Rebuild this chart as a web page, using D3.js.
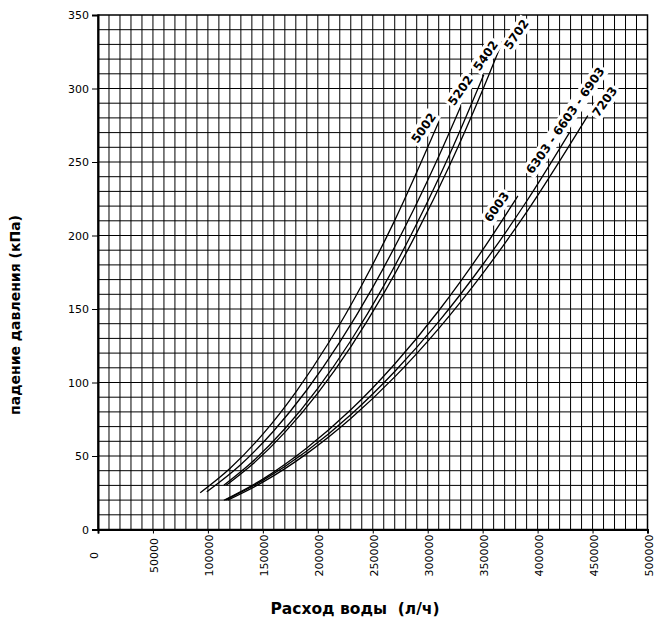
<!DOCTYPE html>
<html>
<head>
<meta charset="utf-8">
<script src="https://cdn.jsdelivr.net/npm/d3@7"></script>
<style>
body { margin: 0; background: #fff; }
</style>
</head>
<body>
<svg id="svg" width="670" height="625"></svg>
<script>
// flow (l/h) and pressure drop (kPa)
const q5002 = [93000, 120000, 150000, 180000, 210000, 240000, 270000, 310000];
const p5002 = [25.0, 41.5, 64.9, 93.5, 127.2, 166.2, 210.3, 277.2];
const q5202 = [99000, 130000, 160000, 190000, 220000, 250000, 280000, 310000, 330000];
const p5202 = [25.6, 44.2, 67.2, 94.9, 127.4, 164.7, 206.8, 253.8, 287.8];
const q5402 = [114500, 140000, 170000, 200000, 230000, 260000, 290000, 320000, 351000];
const p5402 = [30.1, 45.7, 68.5, 96.0, 128.4, 165.7, 208.0, 255.3, 309.4];
const q5702 = [116700, 140000, 170000, 200000, 230000, 260000, 290000, 320000, 350000, 368000];
const p5702 = [30.1, 44.0, 66.1, 92.8, 124.3, 160.6, 201.8, 247.8, 299.0, 332.0];
const q6003 = [114500, 150000, 190000, 230000, 270000, 310000, 350000, 382000];
const p6003 = [19.9, 34.3, 55.4, 81.4, 112.6, 148.8, 190.2, 226.9];
const q6303 = [116000, 150000, 190000, 230000, 270000, 310000, 350000, 390000, 429000];
const p6303 = [20.0, 33.4, 53.4, 78.1, 107.5, 141.4, 180.1, 223.3, 270.0];
const q7203 = [118000, 150000, 190000, 230000, 270000, 310000, 350000, 390000, 445700];
const p7203 = [20.0, 32.2, 51.6, 75.5, 103.8, 136.7, 174.1, 215.9, 281.5];

const seriesNames = ["5002", "5202", "5402", "5702", "6003", "6303 - 6603 - 6903", "7203"];
const seriesQ = [q5002, q5202, q5402, q5702, q6003, q6303, q7203];
const seriesP = [p5002, p5202, p5402, p5702, p6003, p6303, p7203];

const xTicks = [0, 50000, 100000, 150000, 200000, 250000, 300000, 350000, 400000, 450000, 500000];
const yTicks = [0, 50, 100, 150, 200, 250, 300, 350];

const xTitle = "Расход воды  (л/ч)";
const yTitle = "падение давления (кПа)";

// label placement relative to the end of each curve (px)
const labelOffsets = [[-15, 6], [0, -16], [2, -19], [14, -7], [-21, 11], [-4, -12], [17, -14]];

const plot = { left: 98, right: 647.5, top: 15, bottom: 529.5 };

let xScale = d3.scaleLinear()
    .domain([0, 500000])
    .range([plot.left, plot.right]);
let yScale = d3.scaleLinear()
    .domain([0, 350])
    .range([plot.bottom, plot.top]);

let mySvg = d3.select('#svg');

// GRID
mySvg.append("g")
    .selectAll("line")
    .data(d3.range(10000, 500000, 10000))
    .join("line")
    .attr("x1", d => xScale(d)).attr("x2", d => xScale(d))
    .attr("y1", plot.top).attr("y2", plot.bottom)
    .attr("stroke", "#000").attr("stroke-width", 1);

mySvg.append("g")
    .selectAll("line")
    .data(d3.range(10, 350, 10))
    .join("line")
    .attr("x1", plot.left).attr("x2", plot.right)
    .attr("y1", d => yScale(d)).attr("y2", d => yScale(d))
    .attr("stroke", "#000").attr("stroke-width", 1);

// frame
mySvg.append("rect")
    .attr("x", plot.left).attr("y", plot.top)
    .attr("width", plot.right - plot.left)
    .attr("height", plot.bottom - plot.top)
    .attr("fill", "none")
    .attr("stroke", "#000").attr("stroke-width", 1.5);

// AXES
let yAxis = d3.axisLeft(yScale).tickValues(yTicks).tickSize(6).tickPadding(3);
let gy = mySvg.append("g")
    .attr("transform", `translate(${plot.left},0)`)
    .call(yAxis);
gy.select(".domain").attr("stroke-width", 2);
gy.selectAll("text")
    .attr("font-family", "DejaVu Sans")
    .attr("font-size", 11)
    .attr("fill", "#000");

let xAxis = d3.axisBottom(xScale).tickValues(xTicks).tickSize(4).tickFormat(d3.format("d"));
let gx = mySvg.append("g")
    .attr("transform", `translate(0,${plot.bottom})`)
    .call(xAxis);
gx.select(".domain").attr("stroke-width", 2);
gx.selectAll("text")
    .attr("font-family", "DejaVu Sans")
    .attr("font-size", 11)
    .attr("fill", "#000")
    .attr("text-anchor", "middle")
    .attr("dy", null)
    .attr("dominant-baseline", "central")
    .attr("transform", d => `translate(${d === 0 ? -4 : 1},26) rotate(-90)`)
    .attr("y", 0);

// CURVES
const series = seriesNames.map((name, i) => ({
    name: name,
    points: seriesQ[i].map((q, j) => [q, seriesP[i][j]]),
    offset: labelOffsets[i]
}));

let line = d3.line()
    .x(d => xScale(d[0]))
    .y(d => yScale(d[1]))
    .curve(d3.curveMonotoneX);

mySvg.append("g")
    .selectAll("path")
    .data(series)
    .join("path")
    .attr("d", d => line(d.points))
    .attr("fill", "none")
    .attr("stroke", "#000")
    .attr("stroke-width", 1.3);

// curve labels on white boxes
let labels = mySvg.append("g")
    .selectAll("g")
    .data(series)
    .join("g")
    .attr("transform", d => {
        let last = d.points[d.points.length - 1];
        let cx = xScale(last[0]) + d.offset[0];
        let cy = yScale(last[1]) + d.offset[1];
        return `translate(${cx},${cy}) rotate(-55)`;
    });

labels.each(function(d) {
    let g = d3.select(this);
    let t = g.append("text")
        .text(d.name)
        .attr("font-family", "DejaVu Sans")
        .attr("font-weight", "bold")
        .attr("font-size", 12)
        .attr("text-anchor", "middle")
        .attr("dominant-baseline", "central");
    let bb = t.node().getBBox();
    g.insert("rect", "text")
        .attr("x", bb.x - 2).attr("y", bb.y - 1)
        .attr("width", bb.width + 4).attr("height", bb.height + 2)
        .attr("fill", "#fff");
});

// TITLES
mySvg.append("text")
    .attr("x", 355).attr("y", 614)
    .attr("text-anchor", "middle")
    .attr("font-family", "DejaVu Sans")
    .attr("font-weight", "bold")
    .attr("font-size", 15.5)
    .style("white-space", "pre")
    .text(xTitle);

mySvg.append("text")
    .attr("transform", "translate(20,315) rotate(-90)")
    .attr("text-anchor", "middle")
    .attr("font-family", "DejaVu Sans")
    .attr("font-weight", "bold")
    .attr("font-size", 14)
    .text(yTitle);
</script>
</body>
</html>
